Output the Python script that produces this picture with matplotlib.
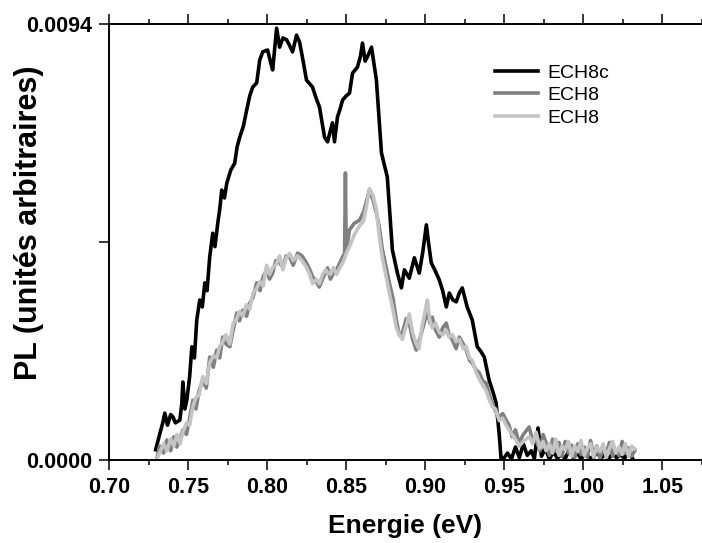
import numpy as np
import matplotlib
matplotlib.use('Agg')
import matplotlib.pyplot as plt

plt.rcParams['font.family'] = ['Liberation Sans', 'DejaVu Sans']

# ECH8c (noir) - energie en eV, PL en unites de 1e-4
energie_ech8c = [
    0.7295, 0.7320, 0.7340, 0.7353, 0.7370, 0.7390, 0.7404, 0.7420, 0.7448, 0.7460,
    0.7467, 0.7480, 0.7492, 0.7510, 0.7524, 0.7540, 0.7555, 0.7574, 0.7590, 0.7606,
    0.7620, 0.7637, 0.7656, 0.7670, 0.7688, 0.7700, 0.7713, 0.7730, 0.7745, 0.7770,
    0.7795, 0.7810, 0.7827, 0.7850, 0.7871, 0.7890, 0.7909, 0.7934, 0.7953, 0.7972,
    0.8003, 0.8020, 0.8035, 0.8060, 0.8079, 0.8100, 0.8123, 0.8140, 0.8161, 0.8186,
    0.8205, 0.8225, 0.8249, 0.8287, 0.8310, 0.8331, 0.8363, 0.8382, 0.8400, 0.8413,
    0.8426, 0.8445, 0.8460, 0.8477, 0.8500, 0.8521, 0.8540, 0.8571, 0.8590, 0.8603,
    0.8620, 0.8634, 0.8660, 0.8691, 0.8723, 0.8760, 0.8792, 0.8824, 0.8849, 0.8868,
    0.8899, 0.8931, 0.8962, 0.8985, 0.9007, 0.9020, 0.9038, 0.9060, 0.9089, 0.9110,
    0.9133, 0.9152, 0.9175, 0.9196, 0.9215, 0.9234, 0.9250, 0.9265, 0.9297, 0.9329,
    0.9350, 0.9373, 0.9404, 0.9425, 0.9448, 0.9467, 0.9480, 0.9495,
    0.9520, 0.9545, 0.9570, 0.9595, 0.9620, 0.9645, 0.9670, 0.9690, 0.9713, 0.9735,
    0.9760, 0.9785, 0.9810, 0.9835, 0.9860, 0.9885, 0.9910, 0.9935, 0.9960, 0.9985,
    1.0010, 1.0035, 1.0060, 1.0085, 1.0110, 1.0135, 1.0160, 1.0185, 1.0210, 1.0235,
    1.0260, 1.0285, 1.0310,
]
pl_ech8c = [
    2.2, 5.5, 8.0, 10.1, 7.5, 9.8, 9.3, 8.0, 8.6, 12.0,
    16.8, 11.0, 12.9, 18.0, 24.4, 22.0, 30.2, 34.5, 33.0, 38.2,
    36.5, 43.8, 48.9, 46.0, 51.1, 54.0, 58.2, 56.5, 59.7, 62.5,
    64.0, 67.5, 69.6, 72.0, 75.5, 78.5, 80.4, 81.3, 86.2, 88.0,
    88.4, 86.0, 84.1, 93.1, 89.0, 91.0, 90.6, 89.5, 88.0, 91.6,
    90.1, 86.5, 81.9, 80.4, 78.0, 76.1, 69.6, 68.6, 71.0, 72.7,
    68.6, 74.0, 75.5, 77.6, 78.5, 79.1, 83.4, 84.7, 87.0, 89.9,
    86.0, 86.9, 89.0, 81.9, 66.2, 61.0, 45.3, 40.3, 37.1, 41.0,
    39.2, 43.6, 40.3, 45.0, 50.7, 47.0, 42.5, 41.0, 38.8, 36.5,
    33.0, 36.0, 34.5, 34.1, 36.0, 37.1, 35.0, 33.0, 30.2, 24.4,
    23.5, 22.2, 17.2, 15.0, 12.3, 5.8, 0.0, 0.3,
    1.5, 0.2, 2.8, 0.5, 3.5, 1.0, 2.0, 0.3, 6.9, 0.8,
    2.5, 0.2, 1.8, 0.4, 1.2, 0.3, 2.2, 0.5, 1.6, 0.2,
    1.4, 0.6, 0.3, 1.8, 0.4, 1.1, 0.2, 1.5, 0.5, 1.2,
    0.3, 2.0, 0.4,
]

# ECH8 (deux mesures, gris fonce et gris clair)
energie_ech8 = [
    0.7300, 0.7320, 0.7345, 0.7366, 0.7390, 0.7410, 0.7429, 0.7450, 0.7467, 0.7490,
    0.7510, 0.7530, 0.7550, 0.7570, 0.7593, 0.7615, 0.7637, 0.7660, 0.7681, 0.7700,
    0.7719, 0.7740, 0.7764, 0.7785, 0.7808, 0.7825, 0.7846, 0.7870, 0.7890, 0.7910,
    0.7934, 0.7955, 0.7975, 0.7997, 0.8015, 0.8035, 0.8055, 0.8079, 0.8100, 0.8120,
    0.8142, 0.8165, 0.8193, 0.8220, 0.8249, 0.8270, 0.8287, 0.8310, 0.8330, 0.8350,
    0.8370, 0.8382, 0.8400, 0.8420, 0.8439, 0.8460, 0.8477, 0.8490, 0.8495, 0.8500,
    0.8521, 0.8550, 0.8584, 0.8610, 0.8630, 0.8647, 0.8670, 0.8691, 0.8710, 0.8729,
    0.8750, 0.8773, 0.8795, 0.8817, 0.8835, 0.8855, 0.8880, 0.8899, 0.8920, 0.8943,
    0.8960, 0.8981, 0.9013, 0.9030, 0.9044, 0.9065, 0.9089, 0.9110, 0.9133, 0.9150,
    0.9171, 0.9195, 0.9215, 0.9240, 0.9259, 0.9280, 0.9297, 0.9320, 0.9341, 0.9365,
    0.9385, 0.9405, 0.9423, 0.9445, 0.9467, 0.9490, 0.9511, 0.9530, 0.9549, 0.9570,
    0.9593, 0.9620, 0.9657, 0.9680, 0.9701, 0.9725, 0.9745, 0.9764, 0.9785, 0.9805,
    0.9825, 0.9845, 0.9865, 0.9885, 0.9905, 0.9925, 0.9945, 0.9965, 0.9985, 1.0005,
    1.0025, 1.0045, 1.0065, 1.0085, 1.0105, 1.0125, 1.0145, 1.0165, 1.0185, 1.0205,
    1.0225, 1.0245, 1.0265, 1.0285, 1.0305, 1.0325,
]
pl_ech8_a = [
    0.0, 3.0, 1.5, 4.3, 2.0, 5.0, 2.8, 4.5, 6.5, 5.5,
    9.0, 12.9, 11.0, 15.0, 17.2, 15.5, 22.2, 20.0, 23.7, 22.0,
    26.5, 25.0, 24.4, 28.0, 31.7, 30.0, 32.3, 31.0, 33.8, 35.0,
    38.2, 36.5, 39.5, 41.0, 39.0, 40.3, 43.0, 42.5, 41.5, 44.0,
    43.8, 42.0, 44.6, 44.0, 42.5, 41.0, 39.5, 38.5, 37.3, 39.0,
    40.5, 41.4, 39.0, 40.3, 41.0, 42.5, 43.8, 44.5, 61.9, 45.0,
    49.6, 51.0, 51.7, 53.5, 56.0, 58.2, 56.0, 53.3, 50.0, 45.3,
    42.0, 38.2, 35.0, 30.2, 27.0, 27.4, 30.5, 29.5, 26.0, 23.7,
    25.5, 28.0, 32.0, 29.5, 30.8, 28.0, 26.5, 28.5, 29.5, 27.0,
    25.9, 24.0, 26.5, 25.0, 23.7, 21.5, 20.9, 19.5, 18.8, 17.0,
    16.6, 14.0, 12.3, 10.5, 9.3, 10.0, 8.6, 7.5, 5.0, 6.5,
    3.7, 5.5, 7.1, 4.0, 4.3, 2.0, 5.5, 3.7, 1.0, 4.5,
    2.0, 3.8, 0.8, 4.0, 1.5, 3.2, 0.5, 3.5, 1.2, 2.8,
    0.6, 4.2, 1.0, 3.0, 0.4, 2.5, 1.5, 3.8, 0.8, 2.2,
    1.0, 4.0, 1.5, 2.6, 0.8, 2.0,
]
pl_ech8_b = [
    0.0, 1.5, 3.5, 2.0, 4.5, 3.0, 5.5, 3.5, 6.0, 8.0,
    7.5, 11.5, 13.5, 14.0, 18.0, 16.5, 21.0, 22.5, 22.0, 24.5,
    25.5, 27.0, 25.0, 29.5, 30.5, 32.0, 31.0, 33.5, 32.5, 36.0,
    37.0, 38.5, 37.5, 42.0, 40.0, 41.5, 42.0, 44.0, 41.0, 43.5,
    44.5, 43.0, 44.0, 43.0, 41.5, 40.0, 38.0, 39.0, 38.0, 40.0,
    41.0, 40.5, 40.0, 41.5, 40.0, 41.5, 42.5, 43.5, 44.0, 44.5,
    46.0, 48.5, 50.5, 51.5, 55.0, 58.5, 57.0, 54.0, 48.0, 43.5,
    40.0, 36.0, 32.5, 28.5, 27.0, 26.0, 29.0, 31.5, 27.5, 25.0,
    24.0, 29.0, 34.5, 30.0, 28.5, 29.5, 27.5, 27.0, 28.0, 26.5,
    27.0, 25.5, 26.0, 24.0, 24.5, 22.0, 21.5, 19.0, 17.5, 16.0,
    15.0, 13.0, 11.5, 11.0, 8.5, 9.0, 7.5, 6.5, 5.5, 4.5,
    3.0, 4.0, 5.0, 3.5, 6.0, 2.5, 4.0, 2.0, 3.5, 1.5,
    4.5, 1.0, 3.0, 2.2, 4.0, 0.8, 3.0, 1.8, 4.2, 1.0,
    2.5, 3.5, 0.6, 2.8, 1.8, 3.5, 0.5, 2.5, 4.0, 1.5,
    2.8, 1.2, 3.5, 0.8, 3.0, 2.4,
]

x_ticks = [0.70, 0.75, 0.80, 0.85, 0.90, 0.95, 1.00, 1.05]
y_ticks = [0.0, 0.0047, 0.0094]
y_ticklabels = ['0.0000', '', '0.0094']

fig = plt.figure(figsize=(7.02, 5.43), dpi=100)
ax = fig.add_axes([109 / 702, 1 - 460 / 543, (702 - 109) / 702, (460 - 24) / 543])

ax.plot(energie_ech8c, np.array(pl_ech8c) * 1e-4, color='black', lw=2.6, label='ECH8c')
ax.plot(energie_ech8, np.array(pl_ech8_a) * 1e-4, color='#808080', lw=2.6, label='ECH8')
ax.plot(energie_ech8, np.array(pl_ech8_b) * 1e-4, color='#c4c4c4', lw=2.6, label='ECH8')

ax.set_xlim(0.70, 1.0745)
ax.set_ylim(0, 0.0094)

ax.set_xticks(x_ticks)
ax.set_xticklabels(['%.2f' % v for v in x_ticks])
ax.set_xticks(np.arange(0.725, 1.08, 0.05), minor=True)
ax.set_yticks(y_ticks)
ax.set_yticklabels(y_ticklabels)

for lab in ax.get_xticklabels() + ax.get_yticklabels():
    lab.set_fontweight('bold')
    lab.set_fontsize(15.5)

ax.spines['right'].set_visible(False)
for s in ['left', 'top', 'bottom']:
    ax.spines[s].set_linewidth(1.4)
ax.tick_params(which='major', direction='out', length=7, width=1.1, top=True, right=False, pad=5)
ax.tick_params(which='minor', direction='out', length=3.5, width=1.1, top=True, right=False)
ax.tick_params(axis='y', which='minor', left=False)

ax.set_xlabel('Energie (eV)', fontsize=19, fontweight='bold', va='center')
ax.xaxis.set_label_coords(0.5, -0.152)
ax.set_ylabel('PL (unités arbitraires)', fontsize=22, fontweight='bold', va='center')
ax.yaxis.set_label_coords(-0.135, 0.545)

leg = ax.legend(loc='upper left', bbox_to_anchor=(495 / 702, 1 - 64 / 543),
                bbox_transform=fig.transFigure, frameon=False, fontsize=14,
                handlelength=2.2, handletextpad=0.5, labelspacing=0.26, borderpad=0,
                borderaxespad=0)

fig.savefig('out.png', dpi=100)
